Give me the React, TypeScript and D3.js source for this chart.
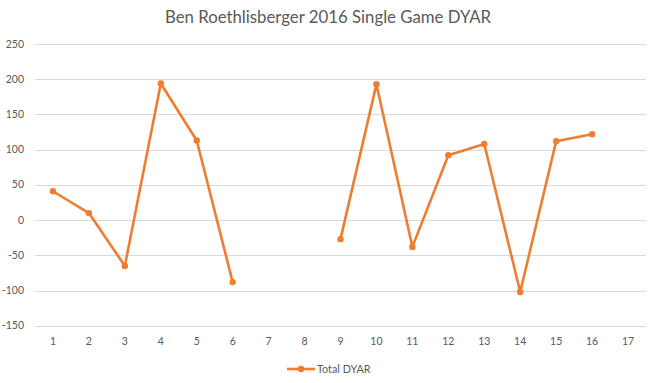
import React from "react";
import * as d3 from "d3";

const games: string[] = ["1","2","3","4","5","6","7","8","9","10","11","12","13","14","15","16","17"];
const totalDyar: (number | null)[] = [41, 10, -65, 194, 113, -88, null, null, -27, 193, -38, 92, 108, -102, 112, 122, null];
const yTicks: number[] = [-150, -100, -50, 0, 50, 100, 150, 200, 250];
const title = "Ben Roethlisberger 2016 Single Game DYAR";
const seriesName = "Total DYAR";

const W = 657, H = 383;
const COLOR = "#ED7D31";
const TEXT = "#595959";
const FONT = "Lato, 'Open Sans', sans-serif";

export default function App() {
  const x = d3.scaleBand<string>().domain(games).range([35, 646]).padding(0);
  const y = d3.scaleLinear().domain([-150, 250]).range([325.8, 44]);
  const cx = (i: number) => (x(games[i]) as number) + x.bandwidth() / 2;
  const line = d3.line<number | null>()
    .defined((d) => d !== null)
    .x((_, i) => cx(i))
    .y((d) => y(d as number));
  const path = line(totalDyar) || "";

  return (
    <div style={{ position: "fixed", left: 0, top: 0, width: W, height: H, background: "#fff" }}>
      <svg width={W} height={H} style={{ display: "block" }}>
        <rect x={0} y={0} width={W} height={H} fill="#fff" />
        <text x={328} y={23} textAnchor="middle" fill={TEXT} fontFamily={FONT} fontSize={16.8}>{title}</text>
        {yTicks.map((t) => (
          <g key={t}>
            <line x1={35} x2={646} y1={Math.round(y(t)) + 0.5} y2={Math.round(y(t)) + 0.5} stroke="#D9D9D9" strokeWidth={1} />
            <text x={24} y={y(t) + 3.5} textAnchor="end" fill={TEXT} fontFamily={FONT} fontSize={10.5}>{t}</text>
          </g>
        ))}
        {games.map((g, i) => (
          <text key={g} x={cx(i)} y={345} textAnchor="middle" fill={TEXT} fontFamily={FONT} fontSize={10.5}>{g}</text>
        ))}
        <path d={path} fill="none" stroke={COLOR} strokeWidth={2.6} strokeLinejoin="round" strokeLinecap="round" />
        {totalDyar.map((v, i) => v === null ? null : (
          <circle key={i} cx={cx(i)} cy={y(v)} r={3.2} fill={COLOR} />
        ))}
        <g>
          <line x1={287} x2={315} y1={369} y2={369} stroke={COLOR} strokeWidth={2.6} />
          <circle cx={301} cy={369} r={3.2} fill={COLOR} />
          <text x={317} y={372.5} fill={TEXT} fontFamily={FONT} fontSize={10.8}>{seriesName}</text>
        </g>
      </svg>
    </div>
  );
}
